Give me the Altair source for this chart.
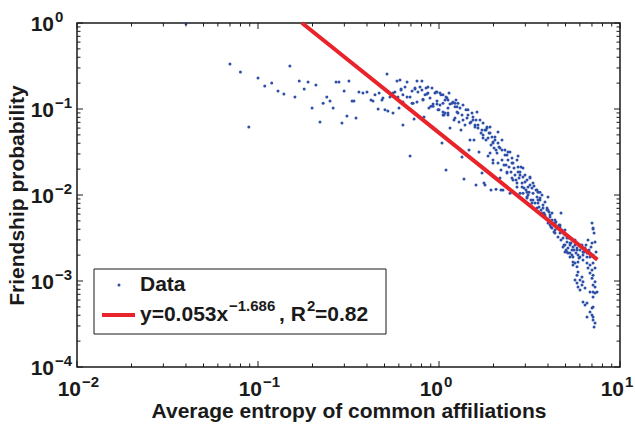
import altair as alt
import pandas as pd

# ---- data ----
entropy = [
    0.040, 0.070, 0.080, 0.089, 0.100, 0.109, 0.119, 0.129, 0.139, 0.150, 0.160, 0.169, 0.180, 0.189, 0.199, 0.209,
    0.220, 0.229, 0.240, 0.250, 0.260, 0.270, 0.280, 0.291, 0.299, 0.310, 0.318, 0.331, 0.339, 0.348, 0.361,
    0.380, 0.400, 0.421, 0.432, 0.443, 0.461, 0.467, 0.484, 0.490, 0.503, 0.522, 0.516, 0.536,
    0.550, 0.557, 0.571, 0.586, 0.609, 0.601, 0.617, 0.632, 0.632, 0.649, 0.666, 0.666, 0.692, 0.710, 0.710, 0.728,
    0.737, 0.756, 0.756, 0.765, 0.785, 0.805, 0.805, 0.826, 0.816, 0.858, 0.869, 0.892, 0.915, 0.903, 0.927, 0.950,
    0.975, 0.975, 0.987,
    1.013, 1.039, 1.026, 1.052, 1.066, 1.093, 1.107, 1.121, 1.136, 1.150, 1.180, 1.195, 1.210, 1.226, 1.257, 1.273,
    1.290, 1.306, 1.323, 1.340, 1.357, 1.374, 1.392, 1.428, 1.446, 1.465, 1.483, 1.502, 1.522, 1.541, 1.561, 1.581,
    1.601, 1.622, 1.642, 1.664, 1.685, 1.707, 1.728, 1.751, 1.751, 1.773, 1.796, 1.819, 1.842, 1.866, 1.890, 1.914,
    1.963, 1.988, 1.988,
    2.014, 2.039, 2.092, 2.119, 2.146, 2.173, 2.201, 2.229, 2.229, 2.258, 2.287, 2.316, 2.376, 2.406, 2.406, 2.437,
    2.468, 2.500, 2.532, 2.564, 2.597, 2.630, 2.698, 2.733, 2.733, 2.768, 2.803, 2.839, 2.876, 2.912, 2.950, 2.987,
    3.064, 3.104, 3.143, 3.183, 3.224, 3.265, 3.307, 3.349, 3.392, 3.480, 3.524, 3.569, 3.614, 3.661, 3.707, 3.755,
    3.803, 3.852, 3.951,
    4.001, 4.052, 4.104, 4.157, 4.210, 4.264, 4.318, 4.374, 4.486, 4.544, 4.602, 4.661, 4.721, 4.781, 4.843, 4.905,
    4.968,
    5.096, 5.161, 5.227, 5.294, 5.362, 5.431, 5.500, 5.642, 5.714, 5.788, 5.937, 6.013, 6.168, 6.247, 6.408, 6.574,
    6.743, 6.830, 7.006, 7.096, 7.187, 7.006, 7.279, 7.372, 7.096,
    4.968, 5.161, 5.431, 5.642, 5.788, 5.500, 5.862, 6.013, 6.247, 6.574, 6.830, 7.096, 6.658, 7.006, 7.279, 6.830,
    7.096, 5.788, 5.862, 5.642, 5.788, 6.013, 6.168, 6.247, 5.862, 6.013, 6.168, 6.408, 7.006, 7.279, 7.096, 6.830,
    7.096, 7.467, 7.096, 6.247, 6.408, 6.574, 7.096, 6.830, 6.574, 7.006, 7.096, 7.279, 7.187,
    7.279, 7.279, 7.006, 7.096,
    3.852, 4.104, 4.430, 4.968, 5.032, 5.294, 5.571, 5.862, 6.327, 6.490, 6.658, 6.917, 4.374, 4.001, 3.524, 3.436,
    3.025, 2.664, 2.346, 2.066, 1.938, 1.819, 1.601, 1.410, 1.241, 1.079, 2.803, 3.183, 3.614, 4.661, 4.968, 5.294,
    5.642, 6.013, 4.001, 4.721, 7.096, 1.796, 1.938, 2.066, 2.201, 1.340,
    2.912, 3.104, 3.307, 3.524, 3.614, 3.755, 3.951, 4.104, 4.210, 4.374, 4.661, 4.843, 5.096, 5.294, 5.500, 5.788,
    6.247, 6.574, 6.830, 4.843, 5.096, 5.294, 5.500, 4.374, 4.210, 4.001, 3.852, 3.707, 3.480, 3.265, 3.064,
    0.617, 0.737, 0.848, 0.869, 0.963, 1.013, 1.052, 1.093, 1.121, 1.150, 1.226, 1.257, 0.880, 0.927, 0.975, 1.000,
    1.052, 1.079, 1.121, 0.719, 0.557, 0.593, 0.632, 0.692, 0.816, 0.837,
    1.052, 1.121, 1.226, 1.273, 1.357, 1.446, 1.483, 1.541, 1.581, 1.642, 1.728, 1.751, 1.842, 1.866, 1.914, 1.988,
    2.039, 2.119, 2.173, 2.229, 2.316, 2.376, 2.468, 2.532, 2.564, 2.698, 2.733, 2.803, 2.912, 2.987, 3.064, 3.183,
    3.307, 3.480, 2.119, 1.988, 1.914, 2.376, 2.532, 2.698, 2.876, 3.064,
]
probability = [
    0.98, 0.333, 0.269, 0.0618, 0.229, 0.185, 0.201, 0.162, 0.149, 0.316, 0.138, 0.212, 0.171, 0.206, 0.103, 0.190,
    0.0706, 0.117, 0.138, 0.124, 0.103, 0.206, 0.206, 0.0687, 0.162, 0.083, 0.212, 0.124, 0.124, 0.0786, 0.158,
    0.153, 0.158, 0.127, 0.124, 0.146, 0.100, 0.153, 0.127, 0.134, 0.0977, 0.0948, 0.255, 0.138,
    0.146, 0.0898, 0.158, 0.212, 0.217, 0.103, 0.166, 0.0652, 0.121, 0.180, 0.206, 0.138, 0.0284, 0.117, 0.162, 0.0765,
    0.171, 0.121, 0.212, 0.158, 0.180, 0.212, 0.166, 0.0807, 0.127, 0.149, 0.180, 0.134, 0.175, 0.108, 0.108, 0.153,
    0.158, 0.124, 0.0977,
    0.111, 0.0402, 0.146, 0.117, 0.0852, 0.0195, 0.134, 0.103, 0.153, 0.0601, 0.117, 0.121, 0.0745, 0.106, 0.0923, 0.117,
    0.0706, 0.103, 0.0570, 0.0852, 0.111, 0.0153, 0.0652, 0.0786, 0.0977, 0.0334, 0.0436, 0.0706, 0.0898, 0.0807, 0.0436, 0.0652,
    0.0131, 0.0923, 0.0601, 0.0316, 0.0745, 0.0526, 0.0180, 0.0460, 0.0687, 0.0138, 0.0570, 0.0436, 0.0618, 0.0284, 0.0526, 0.0618,
    0.0472, 0.0402, 0.0236,
    0.0352, 0.0436, 0.0308, 0.0540, 0.0362, 0.0158, 0.0195, 0.0334, 0.0255, 0.0114, 0.0223, 0.0292, 0.0180, 0.0316, 0.0255, 0.0212,
    0.0105, 0.0185, 0.0236, 0.0149, 0.0206, 0.0171, 0.0124, 0.0284, 0.0185, 0.0158, 0.0105, 0.0212, 0.0138, 0.0162, 0.0121, 0.0142,
    0.00948, 0.0124, 0.0108, 0.0158, 0.00875, 0.0121, 0.0105, 0.0127, 0.00807, 0.00948, 0.0108, 0.00725, 0.00875, 0.00669, 0.0100, 0.00765,
    0.00617, 0.00829, 0.00706,
    0.00512, 0.00634, 0.00555, 0.00425, 0.00617, 0.00472, 0.00371, 0.00512, 0.00413, 0.00325, 0.00448, 0.00362, 0.00300, 0.00392, 0.00316, 0.00262,
    0.00343,
    0.00284, 0.00242, 0.00316, 0.00212, 0.00277, 0.00229, 0.00190, 0.00262, 0.00212, 0.00242, 0.00185, 0.00229, 0.00262, 0.00201, 0.00242, 0.00190,
    0.00229, 0.00212, 0.00472, 0.00413, 0.00362, 0.00277, 0.00284, 0.00217, 0.00201,
    0.00217, 0.00212, 0.00201, 0.00162, 0.00146, 0.00153, 0.00166, 0.00190, 0.00175, 0.00162, 0.00153, 0.00162, 0.00142, 0.00134, 0.00142, 0.00124,
    0.00117, 0.00117, 0.00127, 0.00103, 0.000948, 0.00103, 0.00111, 0.000977, 0.000852, 0.000786, 0.000898, 0.000829, 0.00108, 0.000977, 0.000898, 0.000745,
    0.000745, 0.000745, 0.000652, 0.000570, 0.000526, 0.000555, 0.000498, 0.000436, 0.000381, 0.000402, 0.000352, 0.000325, 0.000292,
    0.000852, 0.000725, 0.000486, 0.000381,
    0.00585, 0.00448, 0.00485, 0.00262, 0.00229, 0.00262, 0.00229, 0.00201, 0.00217, 0.00262, 0.00300, 0.00248, 0.00392, 0.00669, 0.00875, 0.0114,
    0.0114, 0.0149, 0.0223, 0.0334, 0.0381, 0.0570, 0.0745, 0.0977, 0.127, 0.127, 0.0171, 0.0131, 0.0108, 0.00448, 0.00392, 0.00316,
    0.00300, 0.00262, 0.00948, 0.00617, 0.00402, 0.0131, 0.0114, 0.0117, 0.0114, 0.0277,
    0.0105, 0.0100, 0.00875, 0.00807, 0.00923, 0.00706, 0.00669, 0.00585, 0.00512, 0.00472, 0.00425, 0.00362, 0.00316, 0.00277, 0.00248, 0.00229,
    0.00217, 0.00212, 0.00190, 0.00248, 0.00217, 0.00190, 0.00166, 0.00362, 0.00413, 0.00472, 0.00555, 0.00617, 0.00706, 0.00807, 0.00923,
    0.171, 0.175, 0.175, 0.153, 0.158, 0.153, 0.146, 0.138, 0.127, 0.114, 0.117, 0.106, 0.103, 0.114, 0.114, 0.0977,
    0.0852, 0.0898, 0.0898, 0.117, 0.153, 0.138, 0.146, 0.138, 0.130, 0.146,
    0.0923, 0.0852, 0.0786, 0.0898, 0.0745, 0.0852, 0.0687, 0.0745, 0.0618, 0.0652, 0.0570, 0.0499, 0.0601, 0.0460, 0.0526, 0.0413,
    0.0472, 0.0402, 0.0352, 0.0436, 0.0334, 0.0292, 0.0316, 0.0269, 0.0236, 0.0255, 0.0212, 0.0185, 0.0206, 0.0171, 0.0149, 0.0162,
    0.0138, 0.0114, 0.0236, 0.0255, 0.0308, 0.0185, 0.0158, 0.0138, 0.0124, 0.0108,
]

# fitted power law y = 0.053 x^-1.686, endpoints of the drawn segment
fit_x = [0.175, 7.5]
fit_y = [1.0, 0.00177]

x_decades = [0.01, 0.1, 1, 10]
x_exponents = ["−2", "−1", "0", "1"]
y_decades = [0.0001, 0.001, 0.01, 0.1, 1]
y_exponents = ["−4", "−3", "−2", "−1", "0"]

# ---- styling / layout ----
W, H = 543, 344
FONT = "Liberation Sans"
INK = "#1a1a1a"
BLUE = "#2d4fa8"
RED = "#e8232a"

xs = alt.Scale(type="log", domain=[0.01, 10], nice=False)
ys = alt.Scale(type="log", domain=[0.0001, 1], nice=False)

pts = pd.DataFrame({"entropy": entropy, "prob": probability})
fit = pd.DataFrame({"x": fit_x, "y": fit_y})
xlab = pd.DataFrame({"v": x_decades, "e": x_exponents})
ylab = pd.DataFrame({"v": y_decades, "e": y_exponents})
x_minor = pd.DataFrame({"v": [m * d for d in x_decades[:-1] for m in range(2, 10)]})
y_minor = pd.DataFrame({"v": [m * d for d in y_decades[:-1] for m in range(2, 10)]})
x_major = pd.DataFrame({"v": x_decades})
y_major = pd.DataFrame({"v": y_decades})
one = pd.DataFrame({"k": [0]})

scatter = alt.Chart(pts).mark_circle(size=9, color=BLUE, opacity=1).encode(
    x=alt.X("entropy:Q", scale=xs, axis=alt.Axis(
        title="Average entropy of common affiliations", labels=False, ticks=False, domain=False,
        grid=False, titleFont=FONT, titleFontSize=21, titleFontWeight="bold", titleColor=INK,
        titlePadding=33)),
    y=alt.Y("prob:Q", scale=ys, axis=alt.Axis(
        title="Friendship probability", labels=False, ticks=False, domain=False,
        grid=False, titleFont=FONT, titleFontSize=21, titleFontWeight="bold", titleColor=INK,
        titlePadding=50)),
)

fitline = alt.Chart(fit).mark_line(color=RED, strokeWidth=4).encode(
    x=alt.X("x:Q", scale=xs), y=alt.Y("y:Q", scale=ys))

def xticks(df, length):
    bot = alt.Chart(df).mark_rule(color=INK, strokeWidth=1).encode(
        x=alt.X("v:Q", scale=xs), y=alt.value(H), y2=alt.value(H - length))
    top = alt.Chart(df).mark_rule(color=INK, strokeWidth=1).encode(
        x=alt.X("v:Q", scale=xs), y=alt.value(0), y2=alt.value(length))
    return [bot, top]

def yticks(df, length):
    left = alt.Chart(df).mark_rule(color=INK, strokeWidth=1).encode(
        y=alt.Y("v:Q", scale=ys), x=alt.value(0), x2=alt.value(length))
    right = alt.Chart(df).mark_rule(color=INK, strokeWidth=1).encode(
        y=alt.Y("v:Q", scale=ys), x=alt.value(W), x2=alt.value(W - length))
    return [left, right]

ticks = xticks(x_major, 6) + xticks(x_minor, 3.5) + yticks(y_major, 6) + yticks(y_minor, 3.5)

lab_style = dict(font=FONT, fontWeight="bold", color=INK)
x_base = alt.Chart(xlab).mark_text(text="10", fontSize=21, align="right", baseline="middle", dx=4, **lab_style).encode(
    x=alt.X("v:Q", scale=xs), y=alt.value(H + 23))
x_exp = alt.Chart(xlab).mark_text(fontSize=15, align="left", baseline="middle", dx=5, **lab_style).encode(
    x=alt.X("v:Q", scale=xs), y=alt.value(H + 15), text="e:N")
y_base = alt.Chart(ylab).mark_text(text="10", fontSize=21, align="right", baseline="middle", dy=1.5, **lab_style).encode(
    y=alt.Y("v:Q", scale=ys), x=alt.value(-23))
y_exp = alt.Chart(ylab).mark_text(fontSize=15, align="left", baseline="middle", dy=-6, **lab_style).encode(
    y=alt.Y("v:Q", scale=ys), x=alt.value(-22), text="e:N")

# legend box
leg_box = alt.Chart(one).mark_rect(fill="white", stroke=INK, strokeWidth=1).encode(
    x=alt.value(17), x2=alt.value(309), y=alt.value(246), y2=alt.value(311))
leg_dot = alt.Chart(one).mark_circle(size=9, color=BLUE, opacity=1).encode(x=alt.value(42), y=alt.value(262))
leg_data = alt.Chart(one).mark_text(text="Data", fontSize=21, align="left", baseline="middle", **lab_style).encode(
    x=alt.value(63), y=alt.value(262))
leg_line = alt.Chart(one).mark_rule(color=RED, strokeWidth=4).encode(
    x=alt.value(25), x2=alt.value(58), y=alt.value(292))
leg_t1 = alt.Chart(one).mark_text(text="y=0.053x", fontSize=21, align="left", baseline="alphabetic", **lab_style).encode(
    x=alt.value(63), y=alt.value(298))
leg_t2 = alt.Chart(one).mark_text(text="−1.686", fontSize=15, align="left", baseline="alphabetic", **lab_style).encode(
    x=alt.value(152), y=alt.value(288))
leg_t3 = alt.Chart(one).mark_text(text=", R", fontSize=21, align="left", baseline="alphabetic", **lab_style).encode(
    x=alt.value(202), y=alt.value(298))
leg_t4 = alt.Chart(one).mark_text(text="2", fontSize=15, align="left", baseline="alphabetic", **lab_style).encode(
    x=alt.value(230), y=alt.value(288))
leg_t5 = alt.Chart(one).mark_text(text="=0.82", fontSize=21, align="left", baseline="alphabetic", **lab_style).encode(
    x=alt.value(238), y=alt.value(298))

chart = alt.layer(
    scatter, fitline, *ticks, x_base, x_exp, y_base, y_exp,
    leg_box, leg_dot, leg_data, leg_line, leg_t1, leg_t2, leg_t3, leg_t4, leg_t5,
).properties(
    width=W, height=H,
    padding={"left": 77, "top": 23, "right": 15, "bottom": 60},
    autosize=alt.AutoSizeParams(type="none"),
    background="white",
).configure_view(stroke=INK, strokeWidth=1.5)

chart.save("out.html", embed_options={"renderer": "svg", "actions": False})
